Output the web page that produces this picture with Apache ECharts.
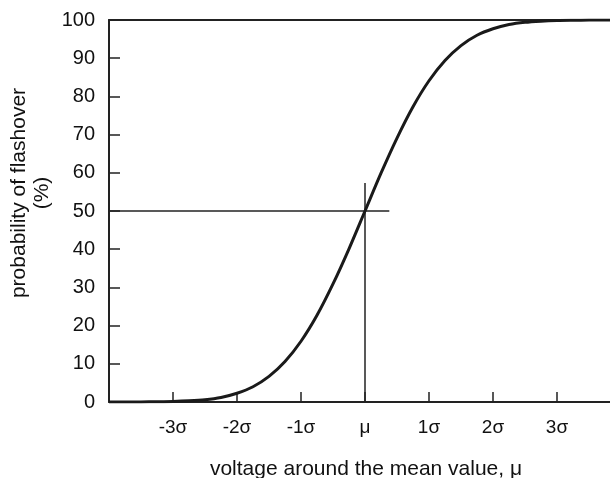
<!DOCTYPE html>
<html><head><meta charset="utf-8">
<script src="https://cdn.jsdelivr.net/npm/echarts@6/dist/echarts.min.js"></script>
<style>html,body{margin:0;padding:0;background:#fff}#c{width:610px;height:478px}</style>
</head><body><div id="c"></div>
<script>
// voltage in units of sigma around the mean
var xSigma = [-4, -3.75, -3.5, -3.25, -3, -2.75, -2.5, -2.25, -2, -1.75, -1.5, -1.25, -1, -0.75, -0.5, -0.25, 0, 0.25, 0.5, 0.75, 1, 1.25, 1.5, 1.75, 2, 2.25, 2.5, 2.75, 3, 3.25, 3.5, 3.75, 4];
// probability of flashover (%)
var probability = [0.003, 0.009, 0.02, 0.06, 0.13, 0.3, 0.6, 1.2, 2.3, 4.0, 6.7, 10.6, 15.9, 22.7, 30.9, 40.1, 50, 59.9, 69.1, 77.3, 84.1, 89.4, 93.3, 96.0, 97.7, 98.8, 99.4, 99.7, 99.87, 99.94, 99.98, 99.99, 100];
var xTickValues = [-3, -2, -1, 0, 1, 2, 3];
var xTickLabels = ['-3\u03c3', '-2\u03c3', '-1\u03c3', '\u03bc', '1\u03c3', '2\u03c3', '3\u03c3'];
var yTickLabels = ['0', '10', '20', '30', '40', '50', '60', '70', '80', '90', '100'];
// 50% guide lines
var hGuideX = [-4, 0.38];
var hGuideY = [50, 50];
var vGuideX = [0, 0];
var vGuideY = [0, 57.3];

var curve = xSigma.map(function (x, i) { return [x, probability[i]]; });
var hGuide = hGuideX.map(function (x, i) { return [x, hGuideY[i]]; });
var vGuide = vGuideX.map(function (x, i) { return [x, vGuideY[i]]; });

var ink = '#222';
var font = 'Liberation Sans, Arial, Helvetica, sans-serif';
var chart = echarts.init(document.getElementById('c'), null, {renderer: 'canvas'});
chart.setOption({
  animation: false,
  grid: {left: 109, top: 20, width: 512, height: 382, containLabel: false, outerBoundsMode: 'none'},
  xAxis: [{
    type: 'value', min: -4, max: 4, interval: 1,
    axisLine: {onZero: false, lineStyle: {color: ink, width: 2}},
    axisTick: {inside: true, length: 10, lineStyle: {color: ink, width: 1.5},
      customValues: xTickValues},
    axisLabel: {color: '#111', fontSize: 19, fontFamily: font, margin: 16,
      customValues: xTickValues,
      formatter: function (v) { var i = xTickValues.indexOf(Math.round(v)); return i >= 0 ? xTickLabels[i] : ''; }},
    splitLine: {show: false}
  }, {
    type: 'value', min: -4, max: 4, position: 'top',
    axisLine: {show: true, onZero: false, lineStyle: {color: ink, width: 2}},
    axisTick: {show: false}, axisLabel: {show: false}, splitLine: {show: false}
  }],
  yAxis: {
    type: 'value', min: 0, max: 100, interval: 10,
    axisLine: {show: true, onZero: false, lineStyle: {color: ink, width: 2}},
    axisTick: {show: true, inside: true, length: 11, lineStyle: {color: ink, width: 1.5}},
    axisLabel: {color: '#111', fontSize: 20, fontFamily: font, margin: 14,
      formatter: function (v) { return yTickLabels[Math.round(v / 10)]; }},
    splitLine: {show: false}
  },
  graphic: [{
    type: 'text', x: 31, y: 193, rotation: Math.PI / 2,
    style: {text: 'probability of flashover\n(%)', fill: '#111', font: '21px ' + font,
      align: 'center', verticalAlign: 'middle', lineHeight: 23}
  }, {
    type: 'text', x: 366, y: 469,
    style: {text: 'voltage around the mean value, \u03bc', fill: '#111', font: '21px ' + font,
      align: 'center', verticalAlign: 'middle'}
  }],
  series: [{
    type: 'line', data: hGuide, symbol: 'none', silent: true,
    lineStyle: {color: ink, width: 1.5}
  }, {
    type: 'line', data: vGuide, symbol: 'none', silent: true,
    lineStyle: {color: ink, width: 1.5}
  }, {
    type: 'line', data: curve, symbol: 'none', smooth: 0.3, silent: true,
    lineStyle: {color: '#1a1a1a', width: 3}
  }]
});
</script></body></html>
